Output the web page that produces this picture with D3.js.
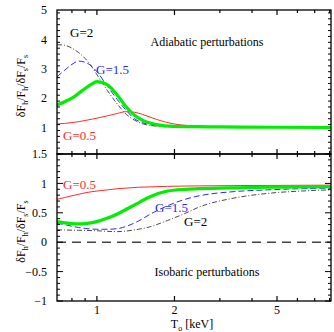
<!DOCTYPE html>
<html>
<head>
<meta charset="utf-8">
<script src="https://cdn.jsdelivr.net/npm/d3@7"></script>
<style>
  body { margin: 0; background: #fff; }
  text { font-family: "Liberation Serif", "DejaVu Serif", serif; }
</style>
</head>
<body>
<div id="chart"></div>
<script>
(function(d3) {
  'use strict';

  // temperatures (keV) where curves were read
  var tAdiab = [0.7, 0.75, 0.8, 0.85, 0.9, 0.95, 1.0, 1.1, 1.2, 1.3, 1.4, 1.5, 1.7, 2, 2.5, 3, 5, 8.1];
  var adiabG05 = [1.12, 1.14, 1.17, 1.2, 1.24, 1.28, 1.32, 1.4, 1.48, 1.54, 1.52, 1.45, 1.28, 1.12, 1.05, 1.03, 1.02, 1.02];
  var adiabG1  = [1.77, 1.88, 2.0, 2.17, 2.33, 2.47, 2.56, 2.45, 2.1, 1.7, 1.42, 1.25, 1.1, 1.04, 1.03, 1.02, 1.01, 1.0];
  var adiabG15 = [2.73, 2.95, 3.15, 3.26, 3.22, 3.1, 2.9, 2.4, 1.95, 1.58, 1.3, 1.17, 1.06, 1.03, 1.02, 1.02, 1.01, 1.0];
  var adiabG2  = [3.82, 3.8, 3.7, 3.55, 3.35, 3.1, 2.8, 2.25, 1.8, 1.45, 1.25, 1.13, 1.05, 1.02, 1.01, 1.01, 1.0, 1.0];

  var tIsob = [0.7, 0.75, 0.8, 0.85, 0.9, 1.0, 1.1, 1.2, 1.3, 1.45, 1.6, 1.88, 2.2, 2.5, 3.4, 4.6, 6.2, 8.1];
  var isobG05 = [0.73, 0.76, 0.79, 0.815, 0.84, 0.87, 0.89, 0.91, 0.92, 0.935, 0.94, 0.95, 0.955, 0.958, 0.962, 0.965, 0.968, 0.97];
  var isobG1  = [0.35, 0.33, 0.315, 0.31, 0.315, 0.35, 0.41, 0.48, 0.56, 0.67, 0.77, 0.87, 0.9, 0.91, 0.925, 0.935, 0.94, 0.945];
  var isobG15 = [0.32, 0.3, 0.27, 0.25, 0.235, 0.22, 0.22, 0.23, 0.27, 0.36, 0.47, 0.62, 0.73, 0.79, 0.86, 0.89, 0.91, 0.92];
  var isobG2  = [0.21, 0.208, 0.205, 0.203, 0.2, 0.195, 0.185, 0.18, 0.19, 0.22, 0.26, 0.37, 0.49, 0.6, 0.75, 0.83, 0.87, 0.89];

  var xTickLabels = [1, 2, 5];
  var xMinorTicks = [0.8, 0.9, 1, 2, 3, 4, 5, 6, 7, 8];

  var width = 334, height = 332;
  var left = 57, right = 331;

  var svg = d3.select('#chart').append('svg')
    .attr('width', width)
    .attr('height', height);

  var x = d3.scaleLog().domain([0.7, 8.1]).range([left, right]);

  var panels = [
    {
      top: 10, bottom: 154, domain: [0.1, 5], major: 1, minor: 0.2,
      labels: [1, 2, 3, 4, 5],
      t: tAdiab,
      series: [adiabG05, adiabG1, adiabG15, adiabG2],
      note: 'Adiabatic perturbations', noteX: 207, noteY: 46
    },
    {
      top: 154, bottom: 301, domain: [-1, 1.5], major: 0.5, minor: 0.1,
      labels: [-1, -0.5, 0, 0.5, 1, 1.5],
      t: tIsob,
      series: [isobG05, isobG1, isobG15, isobG2],
      note: 'Isobaric perturbations', noteX: 207, noteY: 276
    }
  ];

  var styles = [
    { color: '#ff2a2a', width: 1, dash: null },
    { color: '#00ee00', width: 3.2, dash: null },
    { color: '#2a2aff', width: 1, dash: '6,3' },
    { color: '#333333', width: 0.9, dash: '5,2,1,2' }
  ];

  function fmt(v) {
    if (v < 0) return '\u2212' + Math.abs(v);
    return String(v);
  }

  panels.forEach(function(p, pi) {
    var y = d3.scaleLinear().domain(p.domain).range([p.bottom, p.top]);
    var g = svg.append('g');

    // clip for curves
    var clipId = 'clip' + pi;
    svg.append('clipPath').attr('id', clipId)
      .append('rect')
      .attr('x', left).attr('y', p.top)
      .attr('width', right - left).attr('height', p.bottom - p.top);

    if (pi === 1) {
      g.append('line')
        .attr('x1', left).attr('x2', right)
        .attr('y1', y(0)).attr('y2', y(0))
        .attr('stroke', '#444')
        .attr('stroke-width', 1.5)
        .attr('stroke-dasharray', '9,6');
    }

    var line = d3.line()
      .x(function(d) { return x(d[0]); })
      .y(function(d) { return y(d[1]); })
      .curve(d3.curveMonotoneX);

    // draw order: black, blue, red, green on top
    [3, 2, 0, 1].forEach(function(si) {
      var st = styles[si];
      var pts = p.t.map(function(t, i) { return [t, p.series[si][i]]; });
      g.append('path')
        .attr('clip-path', 'url(#' + clipId + ')')
        .attr('d', line(pts))
        .attr('fill', 'none')
        .attr('stroke', st.color)
        .attr('stroke-width', st.width)
        .attr('stroke-dasharray', st.dash);
    });

    // frame
    g.append('rect')
      .attr('x', left).attr('y', p.top)
      .attr('width', right - left).attr('height', p.bottom - p.top)
      .attr('fill', 'none').attr('stroke', '#000').attr('stroke-width', 1.3);

    // y ticks, left and right, pointing inward
    var yMinor = d3.range(p.domain[0], p.domain[1] + 1e-9, p.minor)
      .map(function(v) { return Math.round(v * 10) / 10; });
    yMinor.forEach(function(v) {
      var isMajor = Math.abs(v / p.major - Math.round(v / p.major)) < 1e-6;
      var len = isMajor ? 6 : 3;
      g.append('line').attr('x1', left).attr('x2', left + len)
        .attr('y1', y(v)).attr('y2', y(v)).attr('stroke', '#000').attr('stroke-width', 1);
      g.append('line').attr('x1', right).attr('x2', right - len)
        .attr('y1', y(v)).attr('y2', y(v)).attr('stroke', '#000').attr('stroke-width', 1);
    });

    p.labels.forEach(function(v) {
      g.append('text')
        .attr('x', left - 10).attr('y', y(v))
        .attr('dy', '0.35em')
        .attr('text-anchor', 'end')
        .attr('font-size', 12)
        .text(fmt(v));
    });

    // x ticks on top and bottom, pointing inward
    xMinorTicks.forEach(function(t) {
      var len = xTickLabels.indexOf(t) >= 0 ? 5 : 3;
      g.append('line').attr('x1', x(t)).attr('x2', x(t))
        .attr('y1', p.bottom).attr('y2', p.bottom - len).attr('stroke', '#000').attr('stroke-width', 1.2);
      g.append('line').attr('x1', x(t)).attr('x2', x(t))
        .attr('y1', p.top).attr('y2', p.top + len).attr('stroke', '#000').attr('stroke-width', 1.2);
    });

    // y title
    var yt = g.append('text')
      .attr('transform', 'translate(25,' + ((p.top + p.bottom) / 2 + 4) + ') rotate(-90)')
      .attr('text-anchor', 'middle')
      .attr('font-size', 12);
    yt.append('tspan').text('\u03b4F');
    yt.append('tspan').attr('font-size', 8).attr('dy', 3).text('h');
    yt.append('tspan').attr('dy', -3).text('/F');
    yt.append('tspan').attr('font-size', 8).attr('dy', 3).text('h');
    yt.append('tspan').attr('dy', -3).text('/\u03b4F');
    yt.append('tspan').attr('font-size', 8).attr('dy', 3).text('s');
    yt.append('tspan').attr('dy', -3).text('/F');
    yt.append('tspan').attr('font-size', 8).attr('dy', 3).text('s');

    g.append('text')
      .attr('x', p.noteX).attr('y', p.noteY)
      .attr('text-anchor', 'middle')
      .attr('font-size', 12)
      .text(p.note);
  });

  // curve labels
  var labels = [
    { text: 'G=2', x: 70, y: 37, color: '#000' },
    { text: 'G=1.5', x: 96, y: 74, color: '#2a2aff' },
    { text: 'G=0.5', x: 63, y: 140, color: '#ff2a2a' },
    { text: 'G=0.5', x: 63, y: 189, color: '#ff2a2a' },
    { text: 'G=1.5', x: 155, y: 212, color: '#2a2aff' },
    { text: 'G=2', x: 184, y: 226, color: '#000' }
  ];
  svg.selectAll('.glabel')
    .data(labels)
    .enter()
    .append('text')
    .attr('class', 'glabel')
    .attr('x', function(d) { return d.x; })
    .attr('y', function(d) { return d.y; })
    .attr('font-size', 13)
    .attr('fill', function(d) { return d.color; })
    .text(function(d) { return d.text; });

  // x tick labels
  svg.selectAll('.xlab')
    .data(xTickLabels)
    .enter()
    .append('text')
    .attr('class', 'xlab')
    .attr('x', function(d) { return x(d); })
    .attr('y', 314)
    .attr('text-anchor', 'middle')
    .attr('font-size', 12)
    .text(function(d) { return d; });

  var xt = svg.append('text')
    .attr('x', 192).attr('y', 328)
    .attr('text-anchor', 'middle')
    .attr('font-size', 12);
  xt.append('tspan').text('T');
  xt.append('tspan').attr('font-size', 8).attr('dy', 3).text('o');
  xt.append('tspan').attr('dy', -3).text(' [keV]');

})(window.d3);
</script>
</body>
</html>
